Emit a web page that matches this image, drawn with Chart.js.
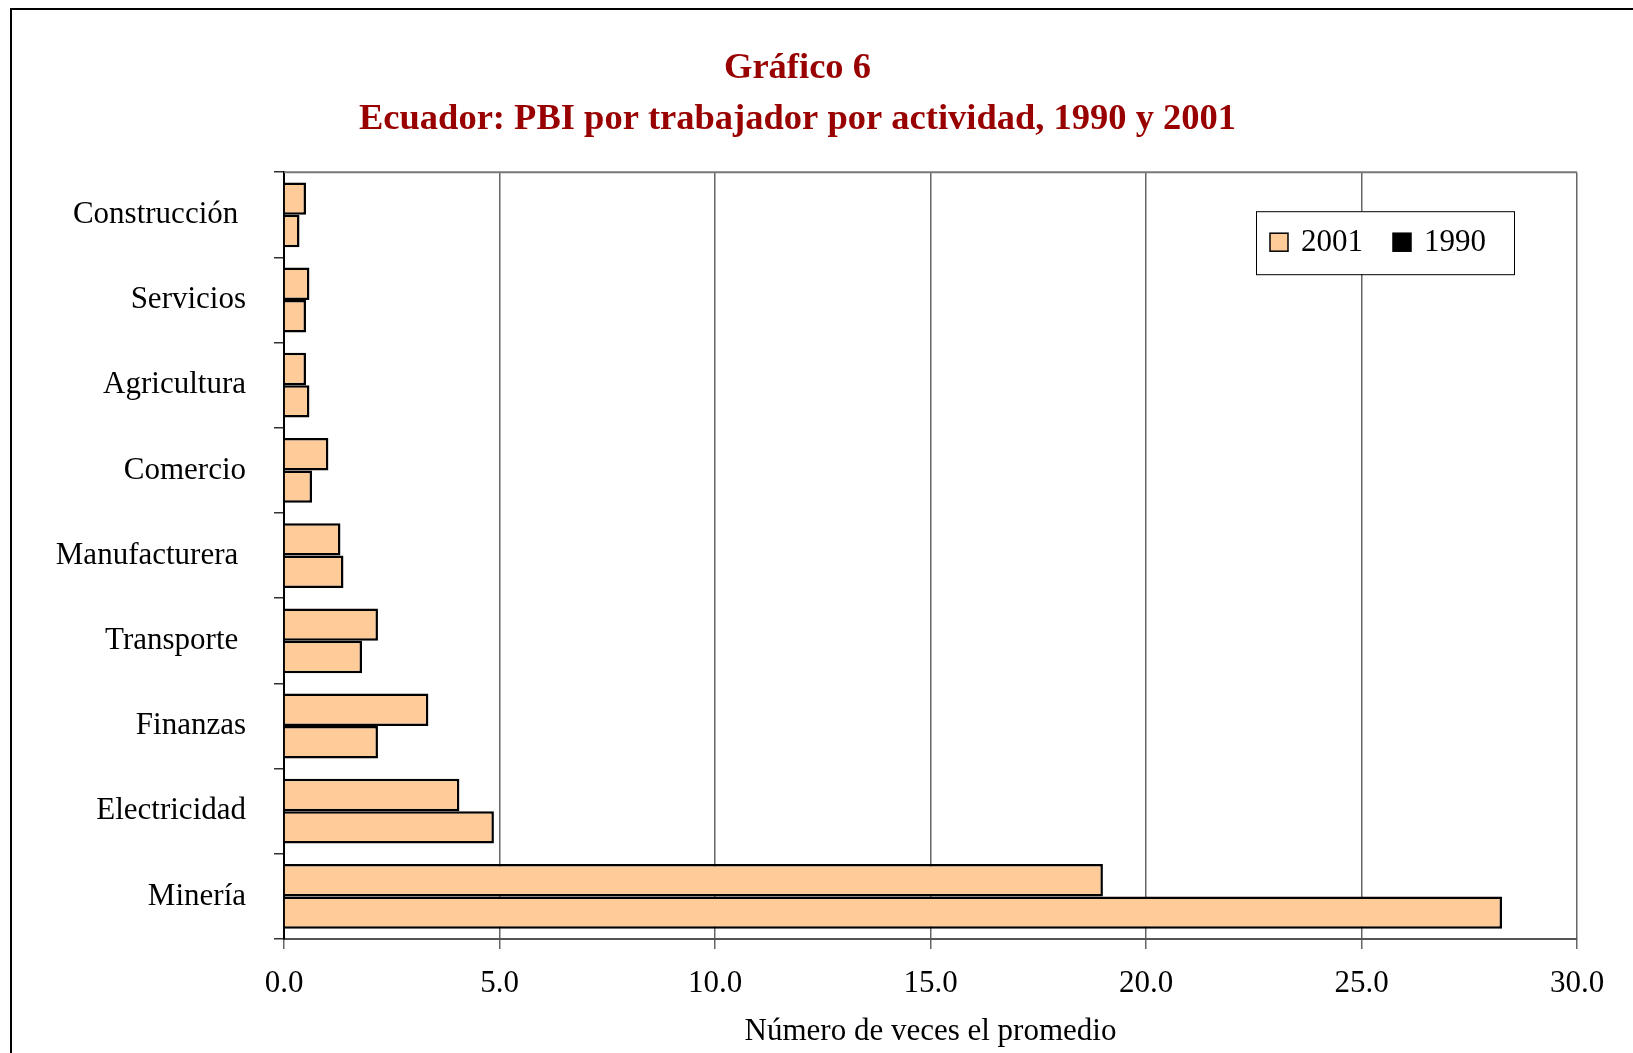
<!DOCTYPE html>
<html lang="es">
<head>
<meta charset="utf-8">
<title>Gráfico 6</title>
<script src="https://cdn.jsdelivr.net/npm/chart.js@4.4.1/dist/chart.umd.min.js"></script>
<style>
    html, body { margin: 0; padding: 0; background: #fff; overflow: hidden; }
    .chart-wrap { position: relative; width: 1633px; height: 1053px; }
    .chart-frame {
        position: absolute; left: 10px; top: 8px; width: 2000px; height: 2000px;
        border-left: 2px solid #000; border-top: 2px solid #000; pointer-events: none;
    }
</style>
</head>
<body>
<div class="chart-wrap">
    <canvas id="bar-chart" width="1633" height="1053"></canvas>
    <div class="chart-frame"></div>
</div>
<script>
// data
const categories = ["Construcción ", "Servicios", "Agricultura", "Comercio", "Manufacturera ", "Transporte ", "Finanzas", "Electricidad", "Minería"];
const values2001 = [0.51, 0.59, 0.51, 1.03, 1.31, 2.18, 3.35, 4.07, 19.0];
const values1990 = [0.36, 0.51, 0.59, 0.65, 1.38, 1.81, 2.18, 4.87, 28.26];
const seriesLabels = ["2001", "1990"];
const xTicks = [0, 5, 10, 15, 20, 25, 30];

const FONT = "'Liberation Serif', 'Times New Roman', serif";

document.addEventListener("DOMContentLoaded", function () {
    const ctx = document.getElementById("bar-chart").getContext("2d");

    // gray line along the top of the plot area
    const plotTopLine = {
        id: "plotTopLine",
        afterDatasetsDraw(chart) {
            const { ctx, chartArea } = chart;
            ctx.save();
            ctx.strokeStyle = "#777";
            ctx.lineWidth = 2;
            ctx.beginPath();
            ctx.moveTo(chartArea.left, chartArea.top);
            ctx.lineTo(chartArea.right, chartArea.top);
            ctx.stroke();
            ctx.restore();
        },
    };

    // boxed legend inside the plot, top right
    const boxLegend = {
        id: "boxLegend",
        afterDraw(chart) {
            const { ctx, chartArea } = chart;
            const x = chartArea.right - 321;
            const y = chartArea.top + 39;
            ctx.save();
            ctx.fillStyle = "#fff";
            ctx.fillRect(x, y, 258, 63);
            ctx.strokeStyle = "#000";
            ctx.lineWidth = 1;
            ctx.strokeRect(x + 0.5, y + 0.5, 258, 63);

            ctx.font = "31px " + FONT;
            ctx.textBaseline = "middle";
            let cx = x + 14;
            chart.data.datasets.forEach((ds) => {
                ctx.fillStyle = ds.legendColor;
                ctx.fillRect(cx, y + 22, 18, 18);
                ctx.strokeStyle = "#000";
                ctx.lineWidth = 1.5;
                ctx.strokeRect(cx, y + 22, 18, 18);
                ctx.fillStyle = "#000";
                ctx.fillText(ds.label, cx + 31, y + 32);
                cx += 123;
            });
            ctx.restore();
        },
    };

    new Chart(ctx, {
        type: "bar",
        data: {
            labels: categories,
            datasets: [
                {
                    label: seriesLabels[0],
                    data: values2001,
                    backgroundColor: "#FFCC99",
                    borderColor: "#000",
                    borderWidth: 2.5,
                    legendColor: "#FFCC99",
                },
                {
                    label: seriesLabels[1],
                    data: values1990,
                    backgroundColor: "#FFCC99",
                    borderColor: "#000",
                    borderWidth: 2.5,
                    legendColor: "#000",
                },
            ],
        },
        options: {
            indexAxis: "y",
            responsive: false,
            animation: false,
            categoryPercentage: 0.76,
            barPercentage: 1,
            layout: { padding: { top: 10, left: 18, right: 56, bottom: 0 } },
            plugins: {
                legend: { display: false },
                tooltip: { enabled: false },
                title: {
                    display: true,
                    text: ["Gráfico 6", "Ecuador: PBI por trabajador por actividad, 1990 y 2001"],
                    color: "#990000",
                    font: { family: FONT, size: 36.5, weight: "bold", lineHeight: 1.4 },
                    padding: { top: 33, bottom: 27 },
                },
            },
            scales: {
                x: {
                    min: 0,
                    max: 30,
                    afterBuildTicks: (scale) => {
                        scale.ticks = xTicks.map((v) => ({ value: v }));
                    },
                    afterFit: (scale) => {
                        scale.height = 114;
                    },
                    ticks: {
                        color: "#000",
                        font: { family: FONT, size: 31 },
                        padding: 16,
                        maxRotation: 0,
                        callback: (v) => Number(v).toFixed(1),
                    },
                    grid: { color: "#666", lineWidth: 1.5, tickLength: 10 },
                    border: { color: "#555", width: 2 },
                    title: {
                        display: true,
                        text: "Número de veces el promedio",
                        color: "#000",
                        font: { family: FONT, size: 31 },
                        padding: { top: 0, bottom: 3 },
                    },
                },
                y: {
                    afterFit: (scale) => {
                        scale.width = 266;
                    },
                    ticks: {
                        color: "#000",
                        font: { family: FONT, size: 31 },
                        padding: 28,
                    },
                    grid: { drawOnChartArea: false, offset: true, tickLength: 10, color: "#333", lineWidth: 1.5 },
                    border: { color: "#000", width: 2 },
                },
            },
        },
        plugins: [plotTopLine, boxLegend],
    });
});
</script>
</body>
</html>
